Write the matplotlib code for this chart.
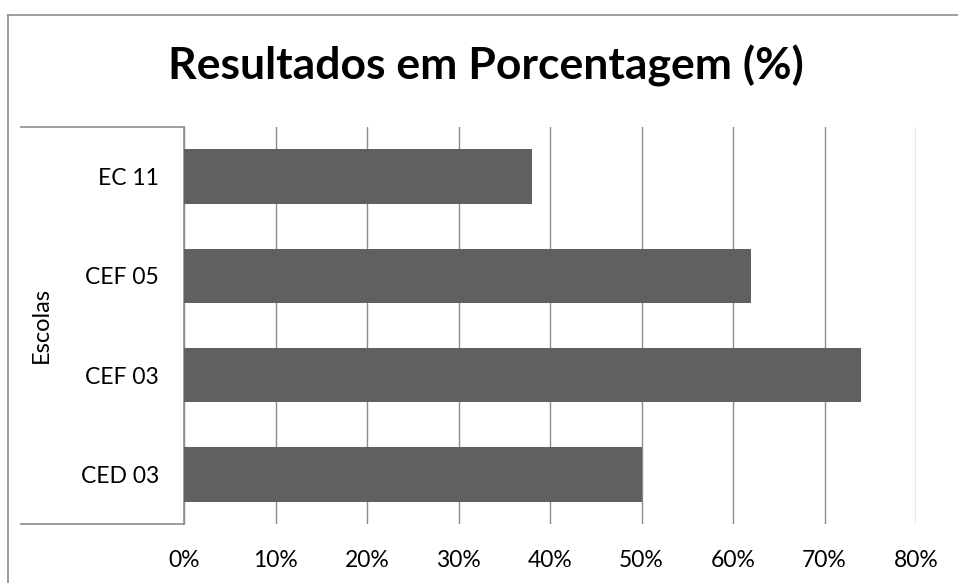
import matplotlib.pyplot as plt
from matplotlib.lines import Line2D

escolas = ['CED 03', 'CEF 03', 'CEF 05', 'EC 11']
resultados = [50, 74, 62, 38]
ticks_x = [0, 10, 20, 30, 40, 50, 60, 70, 80]

plt.rcParams['font.family'] = ['Lato', 'DejaVu Sans']

W, H = 958, 583
fig = plt.figure(figsize=(W / 100, H / 100), dpi=100)

# moldura externa do grafico (so aparecem o topo e a esquerda)
fig.lines.append(Line2D([8 / W, 1.0], [1 - 15 / H, 1 - 15 / H],
                        transform=fig.transFigure, color='#8c8c8c', linewidth=1.2))
fig.lines.append(Line2D([8 / W, 8 / W], [0.0, 1 - 15 / H],
                        transform=fig.transFigure, color='#8c8c8c', linewidth=1.2))

ax = fig.add_axes([184 / W, 1 - 524 / H, (916 - 184) / W, (524 - 127) / H])
ax.barh(range(len(escolas)), resultados, height=0.55, color='#606060', zorder=3)

ax.set_xlim(0, 80)
ax.set_ylim(-0.5, len(escolas) - 0.5)
ax.set_xticks(ticks_x)
ax.set_xticklabels(['%d%%' % t for t in ticks_x], fontsize=16.5)
ax.set_yticks(range(len(escolas)))
ax.set_yticklabels(escolas, fontsize=16.5)
ax.tick_params(axis='both', length=0)
ax.tick_params(axis='x', pad=19)
ax.tick_params(axis='y', pad=18)

ax.grid(axis='x', color='#8c8c8c', linewidth=1.0, zorder=0)
for s in ['top', 'right', 'bottom']:
    ax.spines[s].set_visible(False)
ax.spines['left'].set_color('#8c8c8c')
ax.spines['left'].set_linewidth(1.2)

# linhas da area de rotulos das categorias
for yy in [127, 524]:
    fig.lines.append(Line2D([21 / W, 184 / W], [1 - yy / H, 1 - yy / H],
                            transform=fig.transFigure, color='#8c8c8c', linewidth=1.2))

fig.text(41 / W, 1 - 325 / H, 'Escolas', rotation=90, fontsize=17,
         ha='center', va='center')
fig.text(486 / W, 1 - 66 / H, 'Resultados em Porcentagem (%)', fontsize=32,
         fontweight='bold', ha='center', va='center')

fig.savefig('out.png', dpi=100)
